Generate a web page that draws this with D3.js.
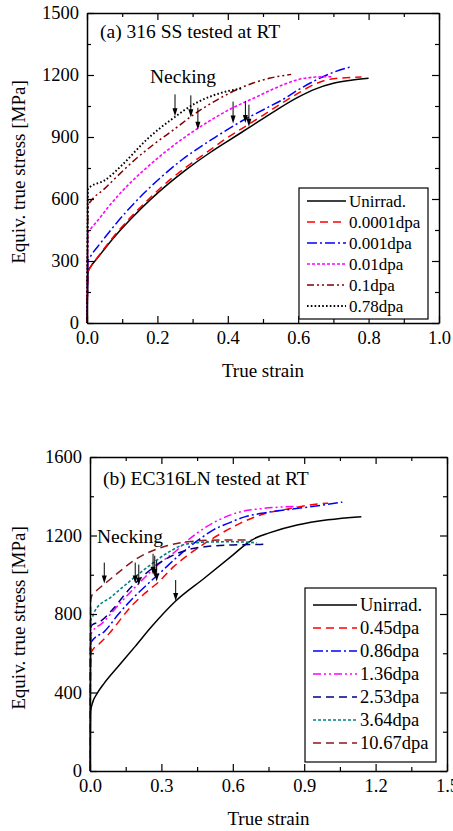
<!DOCTYPE html>
<html>
<head>
<meta charset="utf-8">
<script src="https://cdn.jsdelivr.net/npm/d3@7"></script>
<style>
  body { margin: 0; background: #fff; }
  svg { display: block; }
  text { font-family: "Liberation Serif", "Times New Roman", serif; fill: #000; }
</style>
</head>
<body>
<svg id="chart" width="453" height="831"></svg>
<script>
// ---- panel (a): 316 SS, [true strain, equiv. true stress MPa]
const unirradA = [[0,0],[0.003,250],[0.01,272],[0.03,315],[0.06,380],[0.09,440],[0.13,513],[0.18,597],[0.23,672],[0.28,740],[0.35,825],[0.40,880],[0.46,945],[0.53,1022],[0.6,1093],[0.65,1133],[0.7,1160],[0.75,1175],[0.8,1184]];
const dpa00001A = [[0,0],[0.003,245],[0.01,270],[0.03,318],[0.06,385],[0.09,447],[0.13,522],[0.18,607],[0.23,685],[0.28,752],[0.35,838],[0.40,898],[0.46,962],[0.5,1005],[0.55,1060],[0.6,1112],[0.65,1158],[0.7,1182],[0.78,1190]];
const dpa0001A = [[0,0],[0.003,300],[0.01,322],[0.04,390],[0.07,455],[0.11,535],[0.16,625],[0.21,705],[0.27,790],[0.32,850],[0.37,905],[0.42,958],[0.51,1040],[0.56,1085],[0.6,1128],[0.65,1175],[0.7,1213],[0.75,1240]];
const dpa001A = [[0,0],[0.003,440],[0.01,455],[0.03,495],[0.06,560],[0.1,638],[0.165,745],[0.23,838],[0.3,925],[0.36,990],[0.41,1038],[0.47,1085],[0.52,1125],[0.56,1155],[0.6,1178],[0.65,1190],[0.7,1192]];
const dpa01A = [[0,0],[0.003,570],[0.01,588],[0.05,650],[0.08,700],[0.136,790],[0.19,865],[0.25,940],[0.3,1005],[0.37,1080],[0.42,1125],[0.47,1160],[0.52,1185],[0.58,1203]];
const dpa078A = [[0,0],[0.003,650],[0.01,660],[0.05,690],[0.1,765],[0.17,888],[0.24,985],[0.31,1065],[0.36,1102],[0.4,1122],[0.44,1135]];
const neckingA = [[0.25,1000],[0.295,995],[0.315,935],[0.415,965],[0.45,968],[0.46,950]];
const namesA = ["Unirrad.", "0.0001dpa", "0.001dpa", "0.01dpa", "0.1dpa", "0.78dpa"];
const xTicksA = [0, 0.2, 0.4, 0.6, 0.8, 1.0];
const yTicksA = [0, 300, 600, 900, 1200, 1500];

// ---- panel (b): EC316LN
const unirradB = [[0,0],[0.003,305],[0.01,345],[0.03,395],[0.06,448],[0.12,535],[0.19,635],[0.26,737],[0.36,866],[0.48,982],[0.6,1100],[0.66,1160],[0.7,1190],[0.75,1212],[0.87,1253],[1.0,1280],[1.14,1296]];
const dpa045B = [[0,0],[0.003,600],[0.01,615],[0.04,650],[0.08,700],[0.12,760],[0.17,835],[0.23,905],[0.29,965],[0.35,1040],[0.4,1090],[0.47,1150],[0.55,1210],[0.63,1262],[0.73,1310],[0.83,1335],[0.92,1355],[1.0,1365]];
const dpa086B = [[0,0],[0.003,650],[0.01,665],[0.06,710],[0.12,800],[0.18,880],[0.24,950],[0.29,1005],[0.38,1105],[0.47,1190],[0.52,1230],[0.58,1262],[0.65,1295],[0.73,1315],[0.85,1335],[0.95,1350],[1.06,1370]];
const dpa136B = [[0,0],[0.003,690],[0.01,710],[0.05,752],[0.13,860],[0.2,950],[0.3,1065],[0.36,1120],[0.41,1175],[0.49,1245],[0.57,1295],[0.63,1320],[0.73,1338],[0.87,1348]];
const dpa253B = [[0,0],[0.003,730],[0.01,745],[0.04,760],[0.1,830],[0.16,920],[0.22,990],[0.28,1050],[0.35,1100],[0.42,1130],[0.5,1145],[0.6,1152],[0.74,1155]];
const dpa364B = [[0,0],[0.003,770],[0.01,785],[0.02,815],[0.09,888],[0.17,970],[0.27,1065],[0.33,1115],[0.4,1155],[0.5,1167],[0.6,1168],[0.7,1163]];
const dpa1067B = [[0,0],[0.003,870],[0.01,900],[0.03,922],[0.09,982],[0.2,1085],[0.31,1143],[0.41,1168],[0.55,1177],[0.68,1177]];
const neckingB = [[0.06,955],[0.19,955],[0.205,945],[0.265,1000],[0.272,990],[0.28,965],[0.36,866]];
const namesB = ["Unirrad.", "0.45dpa", "0.86dpa", "1.36dpa", "2.53dpa", "3.64dpa", "10.67dpa"];
const xTicksB = [0, 0.3, 0.6, 0.9, 1.2, 1.5];
const yTicksB = [0, 400, 800, 1200, 1600];

const svg = d3.select("#chart");

function drawPanel(o) {
  const x = d3.scaleLinear().domain(o.xDomain).range([o.left, o.right]);
  const y = d3.scaleLinear().domain(o.yDomain).range([o.bottom, o.top]);
  const g = svg.append("g");

  const line = d3.line()
    .x(d => x(d[0]))
    .y(d => y(d[1]))
    .curve(d3.curveMonotoneX);

  g.selectAll("path.curve")
    .data(o.series)
    .join("path")
    .attr("class", "curve")
    .attr("d", d => line(d))
    .attr("fill", "none")
    .attr("stroke", (_, i) => o.colors[i])
    .attr("stroke-width", (_, i) => o.widths[i])
    .attr("stroke-dasharray", (_, i) => o.dashes[i]);

  // necking arrows
  const arrows = g.selectAll("g.arrow").data(o.necking).join("g").attr("class", "arrow");
  arrows.append("line")
    .attr("x1", d => x(d[0])).attr("x2", d => x(d[0]))
    .attr("y1", d => y(d[1]) - o.arrowLen).attr("y2", d => y(d[1]) - 4)
    .attr("stroke", "#000").attr("stroke-width", 1);
  arrows.append("path")
    .attr("d", d => {
      const px = x(d[0]), py = y(d[1]);
      return `M${px},${py}L${px - 2.5},${py - 8}L${px + 2.5},${py - 8}Z`;
    })
    .attr("fill", "#000");

  // axes, inward ticks on all four sides
  const fmtX = d3.format(".1f");
  const axes = [
    [d3.axisBottom(x).tickValues(o.xTicks).tickFormat(fmtX), `translate(0,${o.bottom})`],
    [d3.axisTop(x).tickValues(o.xTicks).tickFormat(""), `translate(0,${o.top})`],
    [d3.axisLeft(y).tickValues(o.yTicks).tickFormat(d3.format("d")), `translate(${o.left},0)`],
    [d3.axisRight(y).tickValues(o.yTicks).tickFormat(""), `translate(${o.right},0)`]
  ];
  axes.forEach(([ax, tr]) => {
    const a = g.append("g").attr("transform", tr)
      .call(ax.tickSize(-7).tickSizeOuter(0).tickPadding(8));
    a.select(".domain").attr("stroke-width", 1.5);
    a.selectAll(".tick line").attr("stroke-width", 1.2);
    a.selectAll("text").style("font-family", "Liberation Serif, Times New Roman, serif").style("font-size", "18.5px");
  });
  const minors = [
    [d3.axisBottom(x).tickValues(o.xMinor), `translate(0,${o.bottom})`],
    [d3.axisTop(x).tickValues(o.xMinor), `translate(0,${o.top})`],
    [d3.axisLeft(y).tickValues(o.yMinor), `translate(${o.left},0)`],
    [d3.axisRight(y).tickValues(o.yMinor), `translate(${o.right},0)`]
  ];
  minors.forEach(([ax, tr]) => {
    const a = g.append("g").attr("transform", tr)
      .call(ax.tickSize(-4).tickSizeOuter(0).tickFormat(""));
    a.select(".domain").remove();
    a.selectAll(".tick line").attr("stroke-width", 1.2);
  });

  // legend
  const lg = g.append("g");
  lg.append("rect")
    .attr("x", o.legend.x).attr("y", o.legend.y)
    .attr("width", o.legend.w).attr("height", o.legend.h)
    .attr("fill", "#fff").attr("stroke", "#000").attr("stroke-width", 1.2);
  o.names.forEach((name, i) => {
    const ly = o.legend.y + o.legend.first + i * o.legend.step;
    lg.append("line")
      .attr("x1", o.legend.x + 8).attr("x2", o.legend.x + 8 + o.legend.len)
      .attr("y1", ly).attr("y2", ly)
      .attr("stroke", o.colors[i]).attr("stroke-width", o.widths[i])
      .attr("stroke-dasharray", o.dashes[i]);
    lg.append("text")
      .attr("x", o.legend.x + 11 + o.legend.len).attr("y", ly + 6)
      .style("font-size", o.legend.font)
      .text(name);
  });

  // texts
  g.append("text").attr("x", o.left + 13).attr("y", o.titleY)
    .style("font-size", "19.5px").text(o.title);
  g.append("text").attr("x", o.neckX).attr("y", o.neckY)
    .style("font-size", "19.5px").text("Necking");
  g.append("text").attr("x", (o.left + o.right) / 2).attr("y", o.bottom + 54)
    .attr("text-anchor", "middle").style("font-size", "19px").text("True strain");
  g.append("text")
    .attr("transform", `translate(25,${(o.top + o.bottom) / 2 + 4}) rotate(-90)`)
    .attr("text-anchor", "middle").style("font-size", "19px")
    .text("Equiv. true stress [MPa]");
}

drawPanel({
  left: 87, right: 439, top: 13, bottom: 323,
  xDomain: [0, 1], yDomain: [0, 1500],
  xTicks: xTicksA, xMinor: [0.1, 0.3, 0.5, 0.7, 0.9],
  yTicks: yTicksA, yMinor: [150, 450, 750, 1050, 1350],
  series: [unirradA, dpa00001A, dpa0001A, dpa001A, dpa01A, dpa078A],
  names: namesA,
  colors: ["#000", "#ff0000", "#0000ff", "#ff00ff", "#800000", "#000"],
  dashes: [null, "8,5", "10,3,2,3", "3,2", "7,3,2,3,2,3", "1.6,2.2"],
  widths: [1.5, 1.5, 1.5, 1.6, 1.5, 1.9],
  necking: neckingA, arrowLen: 22,
  legend: { x: 299, y: 188, w: 129, h: 131, first: 13, step: 21, len: 39, font: "17px" },
  title: "(a) 316 SS tested at RT", titleY: 38,
  neckX: 150, neckY: 83
});

drawPanel({
  left: 90, right: 447, top: 457, bottom: 771,
  xDomain: [0, 1.5], yDomain: [0, 1600],
  xTicks: xTicksB, xMinor: [0.15, 0.45, 0.75, 1.05, 1.35],
  yTicks: yTicksB, yMinor: [200, 600, 1000, 1400],
  series: [unirradB, dpa045B, dpa086B, dpa136B, dpa253B, dpa364B, dpa1067B],
  names: namesB,
  colors: ["#000", "#ff0000", "#0000ff", "#ff00ff", "#000080", "#008080", "#8b1a1a"],
  dashes: [null, "8,5", "10,3,2,3", "8,3,2,3,2,3", "8,5", "3,2", "8,5"],
  widths: [1.5, 1.5, 1.5, 1.5, 1.5, 1.6, 1.5],
  necking: neckingB, arrowLen: 21,
  legend: { x: 305, y: 588, w: 131, h: 174, first: 17, step: 23, len: 44, font: "18.5px" },
  title: "(b) EC316LN tested at RT", titleY: 485,
  neckX: 97, neckY: 543
});
</script>
</body>
</html>
